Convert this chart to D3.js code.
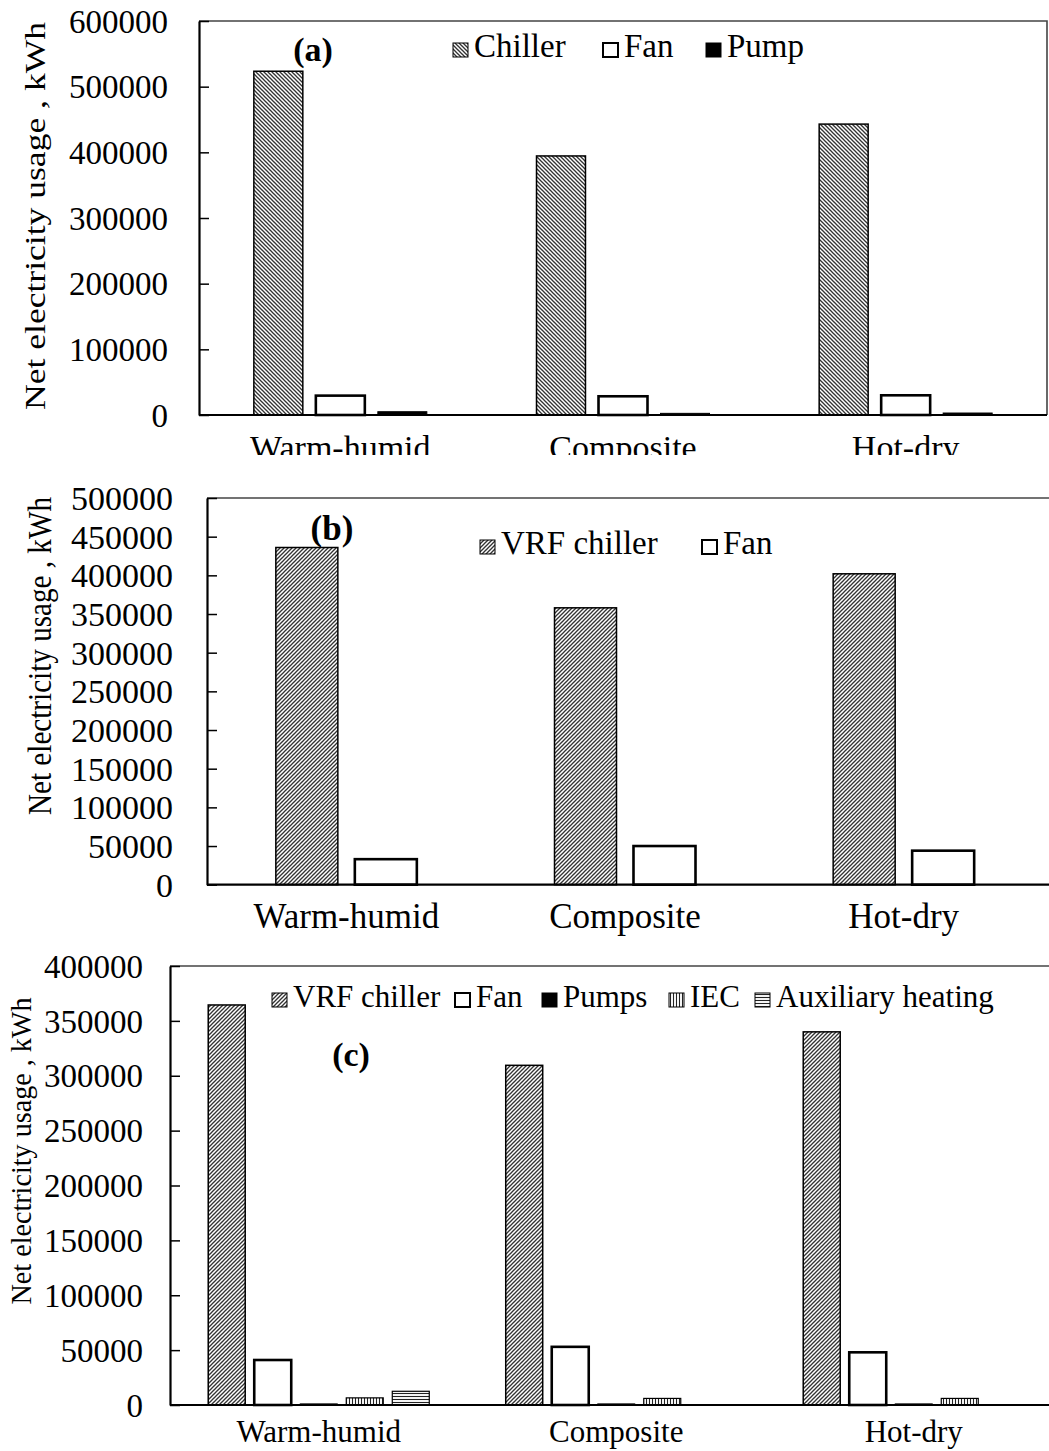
<!DOCTYPE html>
<html>
<head>
<meta charset="utf-8">
<script src="https://cdn.jsdelivr.net/npm/d3@7"></script>
<style>
  html, body { margin: 0; padding: 0; background: #fff; }
  svg { display: block; }
  text { font-family: "Liberation Serif", "Times New Roman", serif; fill: #000; }
</style>
</head>
<body>
<svg id="chart" width="1049" height="1451"></svg>
<script>
// Climate zones (x categories, shared by all three panels)
const climates = ["Warm-humid", "Composite", "Hot-dry"];

// (a) Conventional chiller system, kWh
const chillerA = [523500, 394500, 443000];
const fanA     = [29500, 28500, 30000];
const pumpA    = [5000, 2500, 3000];

// (b) VRF system, kWh
const vrfB = [436000, 358000, 402000];
const fanB = [33000, 50000, 44000];

// (c) VRF system with indirect evaporative cooling, kWh
const vrfC   = [364500, 309500, 340000];
const fanC   = [41000, 53000, 48000];
const pumpsC = [1000, 1000, 1000];
const iecC   = [6500, 6000, 6000];
const auxC   = [12500, 0, 0];

// Y-axis tick values
const ticksA = [0, 100000, 200000, 300000, 400000, 500000, 600000];
const ticksB = [0, 50000, 100000, 150000, 200000, 250000, 300000, 350000, 400000, 450000, 500000];
const ticksC = [0, 50000, 100000, 150000, 200000, 250000, 300000, 350000, 400000];

const yTitle = "Net electricity usage , kWh";

const svg = d3.select("#chart");
const defs = svg.append("defs");

// Hatch fills
function hatch(id, size, paths, sw, color) {
  const p = defs.append("pattern").attr("id", id)
    .attr("patternUnits", "userSpaceOnUse")
    .attr("width", size).attr("height", size);
  p.append("rect").attr("width", size).attr("height", size).attr("fill", "#fff");
  paths.forEach(d => p.append("path").attr("d", d)
    .attr("stroke", color).attr("stroke-width", sw).attr("fill", "none"));
}
const s = 4;
hatch("diagDown", s, [`M0,0L${s},${s}`, `M${-1},${s - 1}L1,${s + 1}`, `M${s - 1},-1L${s + 1},1`], 1.3, "#333");
hatch("diagUp", s, [`M0,${s}L${s},0`, `M-1,1L1,-1`, `M${s - 1},${s + 1}L${s + 1},${s - 1}`], 1.3, "#333");
hatch("vert", 3, ["M1.5,0V3"], 1.1, "#222");
hatch("horiz", 3, ["M0,1.5H3"], 1.1, "#222");

const styles = {
  chiller: { fill: "url(#diagDown)", stroke: "#000", sw: 1.5 },
  vrf:     { fill: "url(#diagUp)",   stroke: "#000", sw: 1.5 },
  fan:     { fill: "#fff",           stroke: "#000", sw: 2.6 },
  pump:    { fill: "#000",           stroke: "#000", sw: 1 },
  iec:     { fill: "url(#vert)",     stroke: "#000", sw: 1.2 },
  aux:     { fill: "url(#horiz)",    stroke: "#000", sw: 1.2 }
};

function drawPanel(cfg) {
  const g = svg.append("g");
  const clipId = "clip-" + cfg.id;
  defs.append("clipPath").attr("id", clipId)
    .append("rect").attr("x", 0).attr("y", cfg.clipTop).attr("width", 1049).attr("height", cfg.clipBottom - cfg.clipTop);
  g.attr("clip-path", `url(#${clipId})`);

  const x = d3.scaleBand().domain(climates).range([cfg.left, cfg.right]);
  const y = d3.scaleLinear().domain([0, cfg.max]).range([cfg.bottom, cfg.top]);
  const bw = x.bandwidth();
  const inner = d3.scaleBand().domain(cfg.series.map(d => d.name))
    .range([bw * (1 - cfg.group) / 2, bw * (1 + cfg.group) / 2])
    .paddingInner(cfg.pad);

  // Plot frame (top and right)
  g.append("path")
    .attr("d", `M${cfg.left},${cfg.top}H${cfg.frameRight}` + (cfg.rightBorder ? `V${cfg.bottom}` : ""))
    .attr("fill", "none").attr("stroke", "#444").attr("stroke-width", 1.6);

  // Bars
  cfg.series.forEach(sr => {
    const st = styles[sr.style];
    g.append("g").selectAll("rect")
      .data(sr.values.map((v, i) => ({ v, c: climates[i] })).filter(d => d.v > 0))
      .join("rect")
      .attr("x", d => x(d.c) + inner(sr.name))
      .attr("width", inner.bandwidth())
      .attr("y", d => y(d.v))
      .attr("height", d => y(0) - y(d.v))
      .attr("fill", st.fill)
      .attr("stroke", st.stroke)
      .attr("stroke-width", st.sw);
  });

  // Y axis with inward ticks
  const ya = g.append("g").attr("transform", `translate(${cfg.left},0)`)
    .call(d3.axisLeft(y).tickValues(cfg.ticks).tickFormat(d3.format("d"))
      .tickSize(-10).tickSizeOuter(0).tickPadding(cfg.left - cfg.labelRight));
  ya.select(".domain").attr("stroke", "#000").attr("stroke-width", 2.2);
  ya.selectAll(".tick line").attr("stroke", "#000").attr("stroke-width", 1.5);
  ya.selectAll(".tick text").attr("font-size", cfg.tickFont + "px")
    .attr("font-family", "'Liberation Serif', serif").attr("dy", "0.34em");

  // X axis baseline and category labels
  const xa = g.append("g").attr("transform", `translate(0,${cfg.bottom})`)
    .call(d3.axisBottom(x).tickSize(0).tickSizeOuter(0));
  xa.select(".domain").attr("d", `M${cfg.left},0H${cfg.frameRight}`)
    .attr("stroke", "#000").attr("stroke-width", 2.2);
  xa.selectAll(".tick text").attr("font-size", cfg.catFont + "px")
    .attr("font-family", "'Liberation Serif', serif")
    .attr("y", cfg.catBaseline - cfg.bottom).attr("dy", 0);

  // Y title
  g.append("text")
    .attr("transform", `translate(${cfg.titleX},${cfg.titleY}) rotate(-90)`)
    .attr("text-anchor", "middle")
    .attr("font-size", cfg.titleFont + "px")
    .attr("textLength", cfg.titleLen).attr("lengthAdjust", "spacingAndGlyphs")
    .text(yTitle);

  // Panel tag
  g.append("text").attr("x", cfg.tag.x).attr("y", cfg.tag.y)
    .attr("text-anchor", "middle").attr("font-weight", "bold")
    .attr("font-size", cfg.tag.size + "px").text(cfg.tag.text);

  // Legend
  const lg = g.append("g");
  cfg.legend.forEach((it, i) => {
    const st = styles[cfg.series[i].style];
    lg.append("rect").attr("x", it.x).attr("y", cfg.legendY - 7 - cfg.legendBox / 2)
      .attr("width", cfg.legendBox + 1).attr("height", cfg.legendBox)
      .attr("fill", st.fill).attr("stroke", "#000")
      .attr("stroke-width", cfg.series[i].style === "fan" ? 2 : 1);
    lg.append("text").attr("x", it.x + cfg.legendBox + 7).attr("y", cfg.legendY)
      .attr("font-size", cfg.legendFont + "px").text(cfg.series[i].name);
  });
}

drawPanel({
  id: "a", clipTop: 0, clipBottom: 455,
  left: 199, right: 1047, frameRight: 1047, rightBorder: true,
  top: 21, bottom: 415, max: 600000, ticks: ticksA,
  group: 0.612, pad: 0.21,
  labelRight: 168, tickFont: 33, catFont: 34, catBaseline: 459,
  titleX: 45, titleY: 216, titleFont: 29, titleLen: 388,
  tag: { text: "(a)", x: 313, y: 61, size: 34 },
  legendY: 57, legendFont: 33, legendBox: 14,
  legend: [{ x: 453 }, { x: 603 }, { x: 706 }],
  series: [
    { name: "Chiller", values: chillerA, style: "chiller" },
    { name: "Fan", values: fanA, style: "fan" },
    { name: "Pump", values: pumpA, style: "pump" }
  ]
});

drawPanel({
  id: "b", clipTop: 470, clipBottom: 945,
  left: 207, right: 1043, frameRight: 1049, rightBorder: false,
  top: 498, bottom: 884.7, max: 500000, ticks: ticksB,
  group: 0.506, pad: 0.215,
  labelRight: 173, tickFont: 34, catFont: 35, catBaseline: 928,
  titleX: 51, titleY: 656, titleFont: 33, titleLen: 318,
  tag: { text: "(b)", x: 332, y: 540, size: 35 },
  legendY: 554, legendFont: 33, legendBox: 14,
  legend: [{ x: 480 }, { x: 702 }],
  series: [
    { name: "VRF chiller", values: vrfB, style: "vrf" },
    { name: "Fan", values: fanB, style: "fan" }
  ]
});

drawPanel({
  id: "c", clipTop: 950, clipBottom: 1451,
  left: 170, right: 1062.5, frameRight: 1049, rightBorder: false,
  top: 966, bottom: 1405, max: 400000, ticks: ticksC,
  group: 0.743, pad: 0.196,
  labelRight: 143, tickFont: 33, catFont: 31, catBaseline: 1442,
  titleX: 31, titleY: 1151, titleFont: 30, titleLen: 307,
  tag: { text: "(c)", x: 351, y: 1066, size: 34 },
  legendY: 1007, legendFont: 31, legendBox: 14,
  legend: [{ x: 272 }, { x: 455 }, { x: 542 }, { x: 669 }, { x: 755 }],
  series: [
    { name: "VRF chiller", values: vrfC, style: "vrf" },
    { name: "Fan", values: fanC, style: "fan" },
    { name: "Pumps", values: pumpsC, style: "pump" },
    { name: "IEC", values: iecC, style: "iec" },
    { name: "Auxiliary heating", values: auxC, style: "aux" }
  ]
});
</script>
</body>
</html>
